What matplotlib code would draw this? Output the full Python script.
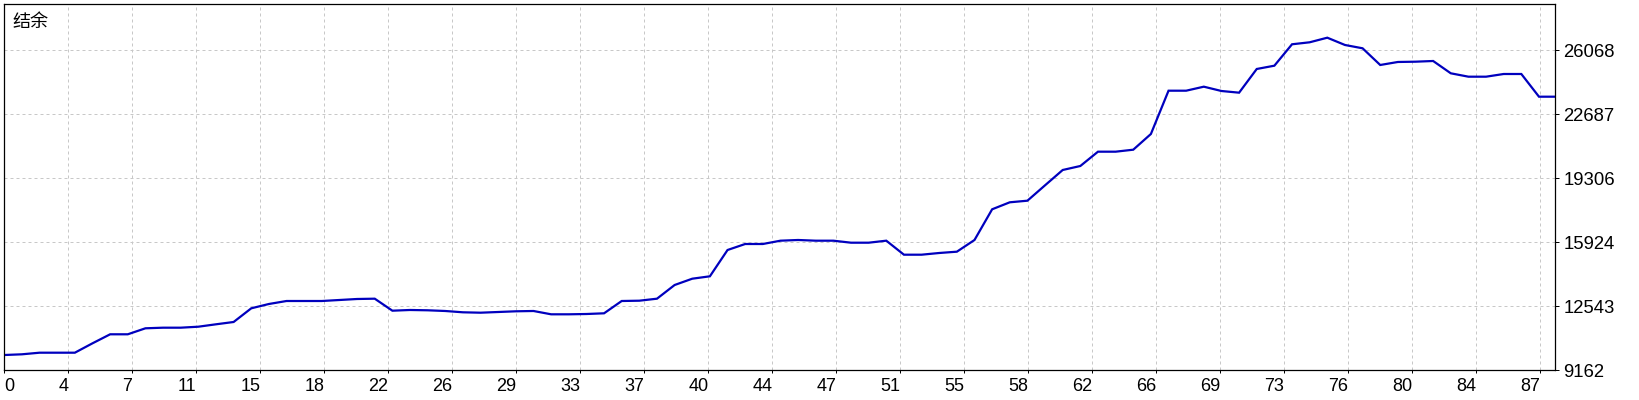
import matplotlib
matplotlib.use("Agg")
import matplotlib.pyplot as plt
import numpy as np

# ---- data ----
balance = [
    9970, 10007, 10092, 10092, 10092, 10588, 11064, 11064, 11381, 11413,
    11413, 11465, 11592, 11714, 12437, 12665, 12823, 12823, 12823, 12876,
    12929, 12945, 12311, 12348, 12332, 12295, 12226, 12205, 12242, 12279,
    12295, 12120, 12120, 12136, 12173, 12823, 12839, 12945, 13668, 14001,
    14128, 15517, 15834, 15834, 16009, 16046, 16009, 16009, 15903, 15903,
    16009, 15269, 15269, 15359, 15428, 16046, 17668, 18037, 18122, 18936,
    19744, 19955, 20711, 20711, 20816, 21646, 23933, 23933, 24145, 23917,
    23828, 25080, 25254, 26385, 26490, 26733, 26348, 26173, 25291, 25450,
    25465, 25502, 24852, 24673, 24673, 24815, 24815, 23616, 23616,
]
x_labels = ["0", "4", "7", "11", "15", "18", "22", "26", "29", "33", "37", "40",
            "44", "47", "51", "55", "58", "62", "66", "69", "73", "76", "80", "84", "87"]
y_ticks = [9162, 12543, 15924, 19306, 22687, 26068]
title = "结余"

# ---- figure ----
W, H = 1640, 400
fig = plt.figure(figsize=(W / 100, H / 100), dpi=100)
left_px, right_px, top_px, bottom_px = 4.3, 1555.0, 4.3, 370.3
ax = fig.add_axes([left_px / W, 1 - bottom_px / H,
                   (right_px - left_px) / W, (bottom_px - top_px) / H])

ppu = 17.64            # pixels per data index
grid_px = 64.0         # grid spacing in pixels
grid_step = grid_px / ppu

xs = np.arange(len(balance))
ax.plot(xs, balance, color="#0000BE", lw=1.6, solid_joinstyle="miter")

ax.set_xlim(0, (right_px - left_px) / ppu)
ystep = y_ticks[1] - y_ticks[0]
ax.set_ylim(y_ticks[0], y_ticks[0] + (bottom_px - top_px) / grid_px * ystep)

xt = np.arange(len(x_labels)) * grid_step
ax.set_xticks(xt)
ax.set_xticklabels(x_labels)
ax.set_yticks(y_ticks)
ax.set_yticklabels([str(v) for v in y_ticks])

ax.yaxis.tick_right()
ax.grid(True, color="#c8c8c8", lw=0.72, linestyle=(0, (3, 3)))
for s in ax.spines.values():
    s.set_color("black")
    s.set_linewidth(0.9)

fnt = ["Liberation Sans", "DejaVu Sans"]
ax.tick_params(axis="x", length=2.5, width=0.72, pad=3.0, labelsize=13,
               direction="out", colors="black")
ax.tick_params(axis="y", length=3.0, width=0.72, pad=3.2, labelsize=13.3,
               direction="out", colors="black")
for lab in ax.get_xticklabels():
    lab.set_family(fnt)
    lab.set_ha("right")
ax.get_xticklabels()[0].set_ha("left")
for lab in ax.get_yticklabels():
    lab.set_family(fnt)

fig.text(12.0 / W, 1 - 21.5 / H, title, family=["Noto Sans CJK SC", "DejaVu Sans"],
         fontsize=13, va="center", ha="left", color="black")

fig.savefig("out.png", dpi=100, facecolor="white")
